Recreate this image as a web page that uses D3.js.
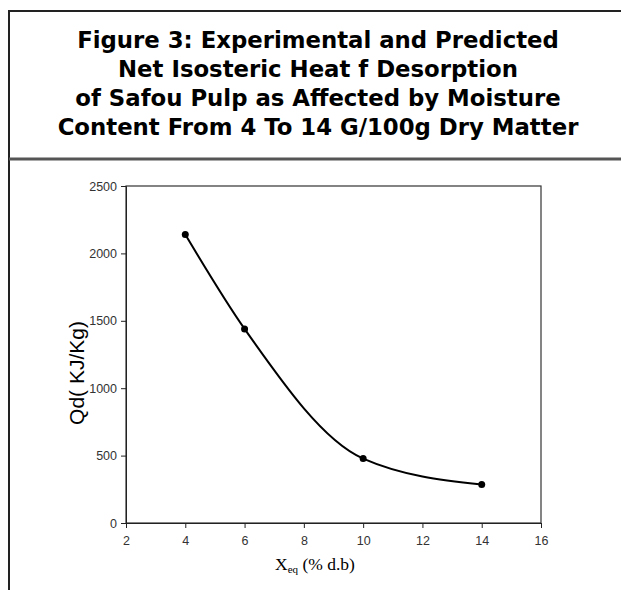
<!DOCTYPE html>
<meta charset="utf-8">
<head>
  <title>Figure 3</title>
</head>

<style>
body { margin: 0; background: #fff; }
svg { display: block; }
</style>

<body>
  <div id="content"></div>

  <script src="https://cdnjs.cloudflare.com/ajax/libs/d3/7.8.5/d3.min.js"></script>

  <script>
// data
var moisture = [4, 6, 10, 14];          // Xeq (% d.b)
var heat = [2140, 1440, 478, 285];      // Qd (KJ/Kg)
var xTicks = [2, 4, 6, 8, 10, 12, 14, 16];
var yTicks = [0, 500, 1000, 1500, 2000, 2500];
var titleLines = [
  'Figure 3: Experimental and Predicted',
  'Net Isosteric Heat f Desorption',
  'of Safou Pulp as Affected by Moisture',
  'Content From 4 To 14 G/100g Dry Matter'
];

var W = 621, H = 590;
var svg = d3.select('#content').append('svg')
  .attr('width', W)
  .attr('height', H);

// frame of the page (table cells)
svg.append('path')
  .attr('d', 'M9,600 V11 H630')
  .attr('fill', 'none')
  .attr('stroke', '#222')
  .attr('stroke-width', 2);
svg.append('line')
  .attr('x1', 9).attr('x2', 630)
  .attr('y1', 159).attr('y2', 159)
  .attr('stroke', '#555')
  .attr('stroke-width', 3);

// title
svg.append('g').selectAll('text')
  .data(titleLines)
  .join('text')
  .attr('x', 318)
  .attr('y', function(d, i) { return 48 + i * 29; })
  .attr('text-anchor', 'middle')
  .style('font-family', '"DejaVu Sans", Verdana, sans-serif')
  .style('font-weight', 'bold')
  .style('font-size', '22.8px')
  .text(function(d) { return d; });

var x = d3.scaleLinear().domain([2, 16]).range([126, 541]);
var y = d3.scaleLinear().domain([0, 2500]).range([523, 186]);

// plot box
svg.append('rect')
  .attr('x', 126).attr('y', 186)
  .attr('width', 415).attr('height', 337)
  .attr('fill', 'none')
  .attr('stroke', '#333')
  .attr('stroke-width', 1.2);

function styleAxis(g) {
  g.select('.domain').attr('stroke', '#222');
  g.selectAll('line').attr('stroke', '#222');
  g.selectAll('text')
    .attr('fill', '#333')
    .style('font-family', '"Liberation Sans", Arial, sans-serif')
    .style('font-size', '12.5px');
}

svg.append('g')
  .attr('transform', 'translate(0,523)')
  .call(d3.axisBottom(x).tickValues(xTicks).tickFormat(d3.format('d')).tickSize(5).tickPadding(8))
  .call(styleAxis);

svg.append('g')
  .attr('transform', 'translate(126,0)')
  .call(d3.axisLeft(y).tickValues(yTicks).tickFormat(d3.format('d')).tickSize(5).tickPadding(4))
  .call(styleAxis);

// axis titles
svg.append('text')
  .attr('transform', 'translate(84,373) rotate(-90)')
  .attr('text-anchor', 'middle')
  .style('font-family', '"Liberation Sans", Arial, sans-serif')
  .style('font-size', '21px')
  .text('Qd( KJ/Kg)');

var xl = svg.append('text')
  .attr('x', 275).attr('y', 570)
  .style('font-family', '"Liberation Serif", "Times New Roman", serif')
  .style('font-size', '17.5px');
xl.append('tspan').text('X');
xl.append('tspan').attr('dy', 3).style('font-size', '11px').text('eq');
xl.append('tspan').attr('dy', -3).text(' (% d.b)');

// predicted curve + experimental points
var pts = moisture.map(function(m, i) { return [m, heat[i]]; });
var line = d3.line()
  .x(function(d) { return x(d[0]); })
  .y(function(d) { return y(d[1]); })
  .curve(d3.curveMonotoneX);

svg.append('path')
  .datum(pts)
  .attr('d', line)
  .attr('fill', 'none')
  .attr('stroke', '#000')
  .attr('stroke-width', 2);

svg.append('g').selectAll('circle')
  .data(pts)
  .join('circle')
  .attr('cx', function(d) { return x(d[0]); })
  .attr('cy', function(d) { return y(d[1]); })
  .attr('r', 3.5)
  .attr('fill', '#000');
  </script>
</body>
</html>
